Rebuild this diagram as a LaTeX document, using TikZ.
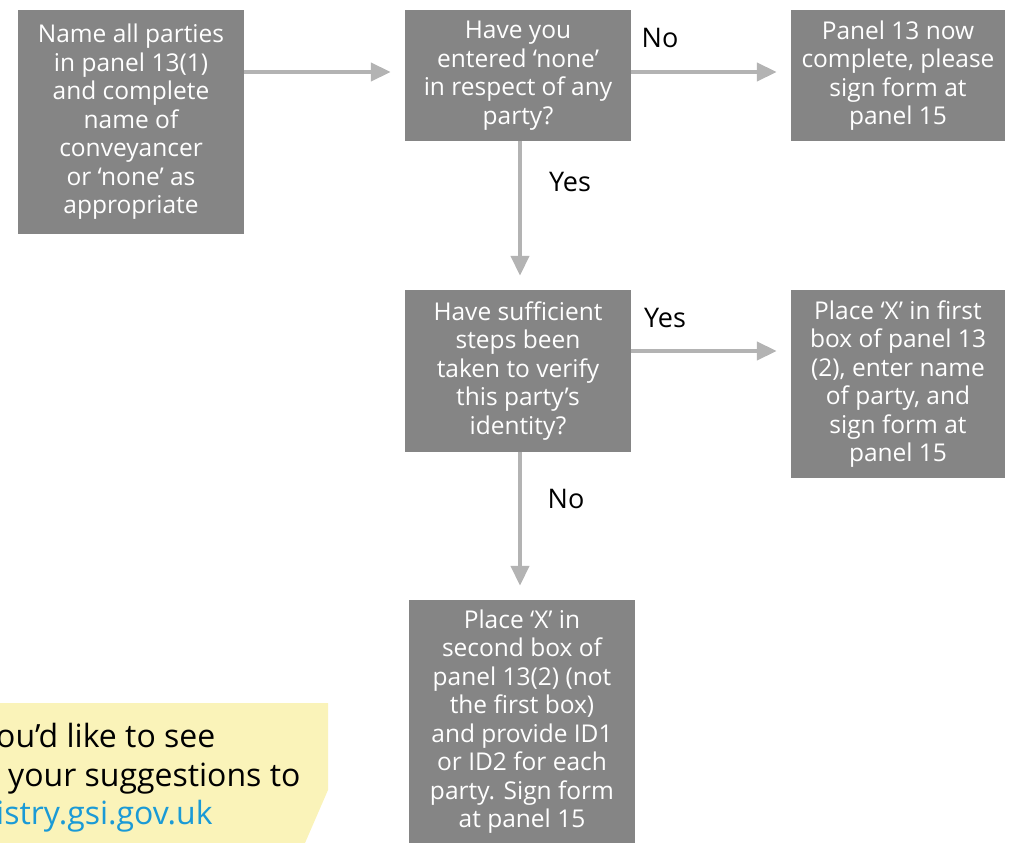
\documentclass[tikz,border=0pt]{standalone}
\usepackage{fontspec}
\setmainfont{Open Sans}
\usetikzlibrary{arrows.meta}
\definecolor{boxgray}{HTML}{858585}
\definecolor{arrowgray}{HTML}{B3B3B3}
\definecolor{noteyellow}{HTML}{FAF3B9}
\definecolor{linkblue}{HTML}{1A9AD6}
\tikzset{
    stepbox/.style={fill=boxgray,text=white,align=center,inner sep=0pt,font=\fontsize{24.5}{28.5}\selectfont},
    flow/.style={draw=arrowgray,line width=4pt,-{Triangle[length=20pt,width=18pt]},shorten >=14pt},
    answer/.style={font=\fontsize{27}{30}\selectfont},
    notetext/.style={inner sep=0pt,font=\fontsize{32}{38}\selectfont},
}
\begin{document}
\begin{tikzpicture}[x=1pt,y=-1pt]
    \useasboundingbox (0,0) rectangle (1020,843);
    % note in the corner
    \fill[noteyellow] (0,703) -- (328,703) -- (328,790) -- (305,843) -- (0,843) -- cycle;
    \node[notetext,anchor=base west] (note1) at (-4,747) {ou’d like to see};
    \node[notetext,anchor=base west] (note2) at (8,786) {your suggestions to};
    \node[notetext,anchor=base west,text=linkblue] (note3) at (-4,824) {istry.gsi.gov.uk};
    % boxes
    \node[stepbox,minimum width=226pt,minimum height=224pt] (names) at (131,122)
        {Name all parties\\in panel 13(1)\\and complete\\name of\\conveyancer\\or ‘none’ as\\appropriate};
    \node[stepbox,minimum width=226pt,minimum height=131pt] (none) at (518,75.5)
        {Have you\\entered ‘none’\\in respect of any\\party?};
    \node[stepbox,minimum width=214pt,minimum height=131pt] (done) at (898,75.5)
        {Panel 13 now\\complete, please\\sign form at\\panel 15};
    \node[stepbox,minimum width=226pt,minimum height=162pt] (verify) at (518,371)
        {Have sufficient\\steps been\\taken to verify\\this party’s\\identity?};
    \node[stepbox,minimum width=214pt,minimum height=188pt] (first) at (898,384)
        {Place ‘X’ in first\\box of panel 13\\(2), enter name\\of party, and\\sign form at\\panel 15};
    \node[stepbox,minimum width=226pt,minimum height=243pt] (second) at (522,721.5)
        {Place ‘X’ in\\second box of\\panel 13(2) (not\\the first box)\\and provide ID1\\or ID2 for each\\party. Sign form\\at panel 15};
    % arrows
    \draw[flow] (names.east |- 0,72) -- (none.west |- 0,72);
    \draw[flow] (none.east |- 0,72) -- (done.west |- 0,72);
    \draw[flow] (none.south -| 520,0) -- (verify.north -| 520,0);
    \draw[flow] (verify.east |- 0,351) -- (first.west |- 0,351);
    \draw[flow] (verify.south -| 520,0) -- (second.north -| 520,0);
    % answers
    \node[answer] (no1) at (660,38) {No};
    \node[answer] (yes1) at (570,182) {Yes};
    \node[answer] (yes2) at (665,318) {Yes};
    \node[answer] (no2) at (566,499) {No};
\end{tikzpicture}
\end{document}
